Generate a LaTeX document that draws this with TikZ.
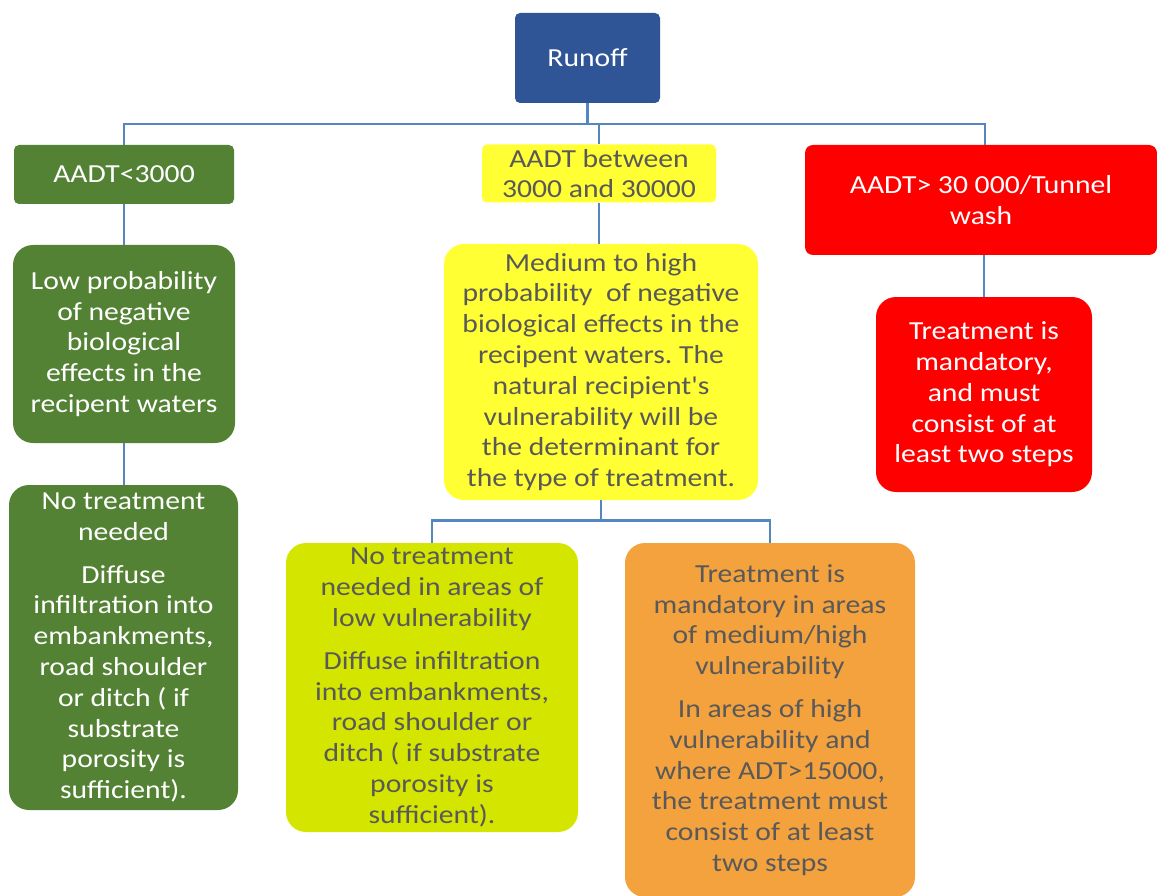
\documentclass[tikz,border=0pt]{standalone}
\usepackage{fontspec}
\setmainfont{Carlito}[FakeStretch=1.14, Ligatures=TeXOff]
\definecolor{cblue}{RGB}{47,85,151}
\definecolor{cgreen}{RGB}{84,130,53}
\definecolor{cyellow}{RGB}{255,255,51}
\definecolor{cred}{RGB}{255,0,0}
\definecolor{clime}{RGB}{212,230,0}
\definecolor{corange}{RGB}{244,162,62}
\definecolor{cgray}{RGB}{89,89,89}
\definecolor{cline}{RGB}{84,134,192}
\tikzset{
  box/.style={rectangle, inner sep=0pt, align=center, font=\fontsize{26}{30.8}\selectfont},
  hdrbox/.style={box, rounded corners=5pt},
  contbox/.style={box, rounded corners=20pt},
  conn/.style={draw=cline, line width=2.6pt},
  wtext/.style={text=white},
  gtext/.style={text=cgray}
}
\frenchspacing
\begin{document}
\begin{tikzpicture}[x=1pt,y=-1pt]
\useasboundingbox[fill=white] (0,0) rectangle (1157,896);

% headers
\node[hdrbox, wtext, fill=cblue, minimum width=145pt, minimum height=90pt] (runoff) at (587.5,58) {Runoff};
\node[hdrbox, wtext, fill=cgreen, minimum width=220pt, minimum height=59pt] (low) at (124,174.5) {AADT<3000};
\node[hdrbox, gtext, fill=cyellow, minimum width=234pt, minimum height=58pt] (mid) at (599,173.5) {AADT between\\3000 and 30000};
\node[hdrbox, wtext, fill=cred, minimum width=352pt, minimum height=110pt, rounded corners=8pt] (high) at (981,200) {AADT> 30 000/Tunnel\\wash};

% level 2
\node[contbox, wtext, fill=cgreen, minimum width=222pt, minimum height=198pt] (low2) at (124,344) {Low probability\\of negative\\biological\\effects in the\\recipent waters};
\node[contbox, gtext, fill=cyellow, minimum width=314pt, minimum height=256pt] (mid2) at (601,372) {Medium to high\\probability\ \ of negative\\biological effects in the\\recipent waters. The\\natural recipient's\\vulnerability will be\\the determinant for\\the type of treatment.};
\node[contbox, wtext, fill=cred, minimum width=216pt, minimum height=195pt] (high2) at (984,394.5) {Treatment is\\mandatory,\\and must\\consist of at\\least two steps};

% level 3
\node[contbox, wtext, fill=cgreen, minimum width=229pt, minimum height=325pt] (low3) at (123.5,647.5) {No treatment\\needed\\[12pt]Diffuse\\infiltration into\\embankments,\\road shoulder\\or ditch ( if\\substrate\\porosity is\\sufficient).};
\node[contbox, gtext, fill=clime, minimum width=292pt, minimum height=289pt] (lime) at (432,687.5) {No treatment\\needed in areas of\\low vulnerability\\[12pt]Diffuse infiltration\\into embankments,\\road shoulder or\\ditch ( if substrate\\porosity is\\sufficient).};
\node[contbox, gtext, fill=corange, minimum width=290pt, minimum height=354pt] (orange) at (770,720) {Treatment is\\mandatory in areas\\of medium/high\\vulnerability\\[12pt]In areas of high\\vulnerability and\\where ADT>15000,\\the treatment must\\consist of at least\\two steps};

% connectors
\draw[conn] (runoff.south) -- ++(0,21) -| (low.north);
\draw[conn] (runoff.south) -- ++(0,21) -| (mid.north);
\draw[conn] (runoff.south) -- ++(0,21) -| ([xshift=4pt]high.north);
\draw[conn] (low.south) -- (low.south |- low2.north);
\draw[conn] (mid.south) -- (mid.south |- mid2.north);
\draw[conn] (high.south -| high2.north) -- (high2.north);
\draw[conn] (low2.south) -- (low2.south |- low3.north);
\draw[conn] (mid2.south) -- ++(0,20) -| (lime.north);
\draw[conn] (mid2.south) -- ++(0,20) -| (orange.north);
\end{tikzpicture}
\end{document}
